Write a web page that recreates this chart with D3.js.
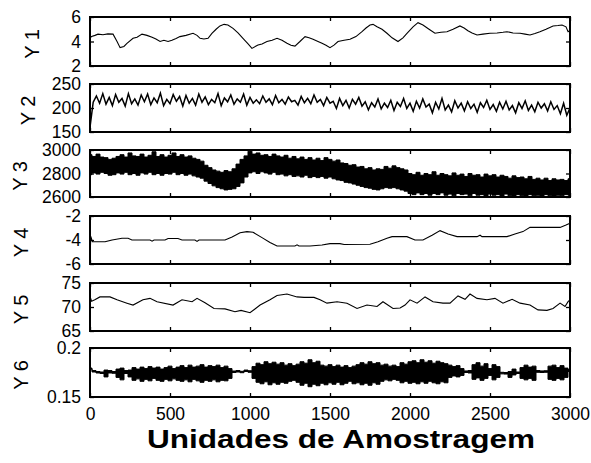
<!DOCTYPE html>
<html>
<head>
<meta charset="utf-8">
<script src="https://cdn.jsdelivr.net/npm/d3@7"></script>
<style>
  body { margin: 0; background: #fff; }
  svg { display: block; font-family: "Liberation Sans", Arial, sans-serif; }
</style>
</head>
<body>
<div id="chart"></div>
<script>
// x axis of every panel
const xTicks = [0, 500, 1000, 1500, 2000, 2500, 3000];

// Y1 : sample position / value pairs
const y1T = [0, 10, 31, 50, 81, 112, 144, 169, 188, 212, 231, 269, 294, 325, 356, 388, 412, 438, 462, 488,
  512, 538, 562, 600, 644, 669, 688, 712, 738, 762, 788, 812, 838, 862, 894, 925, 956, 988, 1012, 1050,
  1075, 1106, 1138, 1169, 1200, 1231, 1256, 1281, 1312, 1344, 1369, 1394, 1425, 1450, 1475, 1500, 1525, 1550, 1588, 1625,
  1662, 1700, 1725, 1750, 1769, 1794, 1825, 1856, 1888, 1925, 1956, 1981, 2019, 2050, 2081, 2119, 2156, 2194, 2231, 2269,
  2312, 2338, 2362, 2388, 2419, 2456, 2500, 2544, 2581, 2606, 2644, 2688, 2719, 2750, 2781, 2812, 2850, 2894, 2925, 2950,
  2975, 2988, 3000];
const y1V = [4.3, 4.4, 4.5, 4.6, 4.55, 4.62, 4.6, 4.0, 3.5, 3.6, 3.85, 4.26, 4.35, 4.6, 4.5, 4.34, 4.2, 4.0, 4.1, 4.0,
  4.1, 4.25, 4.4, 4.5, 4.67, 4.5, 4.26, 4.2, 4.26, 4.67, 5.0, 5.27, 5.4, 5.35, 5.07, 4.7, 4.26, 3.8, 3.44, 3.71,
  3.8, 4.0, 4.1, 4.26, 4.1, 3.85, 3.7, 3.63, 4.0, 4.4, 4.3, 4.18, 4.0, 3.85, 3.7, 3.5, 3.7, 4.0, 4.1, 4.18,
  4.4, 4.8, 5.1, 5.35, 5.4, 5.2, 5.0, 4.67, 4.3, 4.0, 4.3, 4.67, 5.2, 5.54, 5.35, 5.0, 4.67, 4.75, 4.8, 5.0,
  5.27, 5.1, 4.88, 4.7, 4.53, 4.6, 4.67, 4.7, 4.75, 4.8, 4.7, 4.67, 4.6, 4.53, 4.65, 4.8, 5.0, 5.27, 5.3, 5.35,
  5.2, 4.8, 4.9];

// Y2 : one reading every 20 samples
const y2Step = 20;
const y2V = [160, 212, 225, 210, 230, 208, 222, 205, 228, 212, 220, 204, 230, 209, 219, 206, 227, 213, 229, 207,
  221, 211, 231, 205, 218, 209, 228, 214, 224, 204, 226, 210, 220, 206, 229, 212, 223, 207, 218, 211,
  230, 205, 221, 213, 227, 208, 219, 212, 229, 206, 222, 210, 217, 209, 225, 212, 219, 207, 226, 211,
  218, 208, 223, 213, 216, 206, 224, 211, 220, 209, 227, 212, 218, 205, 222, 210, 214, 199, 220, 205,
  216, 200, 218, 208, 222, 204, 213, 196, 211, 202, 219, 198, 210, 201, 216, 195, 212, 203, 220, 199,
  210, 193, 214, 200, 219, 202, 208, 190, 212, 198, 220, 196, 206, 192, 215, 200, 210, 194, 213, 199,
  208, 191, 211, 201, 216, 197, 207, 193, 212, 198, 214, 196, 205, 190, 211, 199, 215, 195, 206, 192,
  212, 200, 209, 194, 213, 197, 205, 188, 210, 185, 200];

// Y3 : upper and lower edge of the noisy band, every 25 samples
const y3Step = 25;
const y3Upper = [2960, 2945, 2965, 2940, 2935, 2920, 2930, 2945, 2960, 2940, 2975, 2950, 2945, 2965, 2940, 2955, 2985, 2945, 2960, 2940,
  2955, 2975, 2945, 2960, 2940, 2950, 2930, 2920, 2905, 2870, 2850, 2830, 2820, 2810, 2825, 2815, 2840, 2880, 2920, 2950,
  2990, 2965, 2975, 2955, 2960, 2945, 2965, 2950, 2940, 2955, 2930, 2945, 2925, 2940, 2920, 2935, 2915, 2930, 2910, 2935,
  2920, 2905, 2915, 2890, 2885, 2870, 2875, 2855, 2860, 2840, 2850, 2830, 2840, 2835, 2860, 2845, 2865, 2850, 2840, 2830,
  2800, 2790, 2810, 2785, 2800, 2790, 2815, 2785, 2800, 2790, 2780, 2805, 2785, 2795, 2775, 2800, 2785, 2790, 2770, 2795,
  2780, 2790, 2770, 2785, 2775, 2760, 2780, 2765, 2770, 2755, 2775, 2750, 2760, 2745, 2760, 2740, 2755, 2745, 2750, 2740,
  2755];
const y3Lower = [2790, 2805, 2795, 2810, 2800, 2785, 2790, 2805, 2795, 2810, 2790, 2800, 2785, 2805, 2795, 2810, 2790, 2800, 2785, 2800,
  2795, 2810, 2790, 2800, 2785, 2795, 2780, 2770, 2760, 2735, 2715, 2695, 2680, 2670, 2660, 2665, 2670, 2690, 2720, 2770,
  2805, 2815, 2800, 2815, 2805, 2795, 2810, 2790, 2795, 2780, 2790, 2775, 2780, 2770, 2785, 2765, 2775, 2765, 2775, 2760,
  2770, 2755, 2745, 2740, 2725, 2720, 2710, 2700, 2690, 2680, 2675, 2665, 2660, 2670, 2680, 2675, 2680, 2670, 2660, 2650,
  2630, 2620, 2635, 2620, 2630, 2615, 2630, 2620, 2635, 2615, 2625, 2610, 2630, 2620, 2625, 2610, 2630, 2615, 2620, 2605,
  2625, 2615, 2620, 2605, 2625, 2610, 2605, 2620, 2610, 2605, 2620, 2610, 2615, 2605, 2620, 2610, 2605, 2615, 2610, 2620,
  2615];

// Y4
const y4T = [0, 5, 15, 94, 138, 200, 238, 262, 375, 388, 400, 469, 488, 550, 575, 656, 669, 681, 844, 888,
  938, 981, 1019, 1075, 1125, 1169, 1281, 1294, 1306, 1375, 1450, 1500, 1562, 1588, 1750, 1800, 1856, 1888, 1981, 2031,
  2081, 2138, 2188, 2238, 2294, 2419, 2438, 2450, 2606, 2656, 2706, 2750, 2938, 2975, 3000];
const y4V = [-5.5, -3.7, -4.14, -4.14, -4.0, -3.86, -3.86, -4.0, -4.0, -4.1, -4.0, -4.0, -3.88, -3.88, -4.0, -4.0, -4.12, -4.0, -4.0, -3.75,
  -3.4, -3.3, -3.35, -3.8, -4.2, -4.5, -4.5, -4.4, -4.5, -4.5, -4.42, -4.3, -4.3, -4.38, -4.36, -4.15, -3.86, -3.72, -3.72, -4.0,
  -4.0, -3.6, -3.22, -3.5, -3.72, -3.72, -3.6, -3.72, -3.72, -3.5, -3.3, -2.95, -2.95, -2.75, -2.6];

// Y5
const y5T = [0, 3, 10, 30, 62, 125, 169, 231, 269, 331, 375, 419, 519, 575, 638, 669, 719, 775, 844, 906,
  944, 1000, 1063, 1125, 1169, 1231, 1294, 1338, 1400, 1438, 1481, 1544, 1606, 1669, 1731, 1794, 1831, 1894, 1938, 1969,
  2000, 2044, 2094, 2144, 2206, 2250, 2300, 2344, 2375, 2419, 2481, 2531, 2581, 2638, 2688, 2750, 2800, 2856, 2894, 2938,
  2969, 2988, 3000];
const y5V = [70.1, 71.9, 71.2, 71.5, 72.1, 72.1, 71.5, 70.8, 70.4, 71.5, 71.8, 71.1, 70.4, 71.5, 71.1, 71.8, 70.9, 69.7, 69.6, 69.0,
  69.3, 68.8, 70.4, 71.5, 72.4, 72.7, 72.1, 72.0, 72.0, 71.5, 70.8, 71.1, 70.8, 69.7, 70.4, 70.1, 71.1, 69.7, 69.8, 70.4,
  71.5, 70.8, 72.1, 71.1, 70.8, 70.8, 72.3, 71.6, 72.7, 71.8, 71.5, 71.8, 70.8, 71.6, 70.8, 70.4, 69.4, 69.3, 69.7, 70.8,
  70.1, 71.1, 71.5];

// Y6 : upper and lower edge of the noisy band, every 25 samples
const y6Step = 25;
const y6Upper = [0.1795, 0.1770, 0.1760, 0.1755, 0.1775, 0.1770, 0.1760, 0.1785, 0.1795, 0.1770, 0.1775, 0.1800, 0.1785, 0.1805, 0.1790, 0.1810, 0.1795, 0.1805, 0.1785, 0.1800,
  0.1815, 0.1790, 0.1805, 0.1820, 0.1800, 0.1825, 0.1805, 0.1815, 0.1830, 0.1805, 0.1820, 0.1810, 0.1825, 0.1800, 0.1815, 0.1790, 0.1765, 0.1770, 0.1762, 0.1775,
  0.1768, 0.1810, 0.1845, 0.1830, 0.1860, 0.1840, 0.1855, 0.1835, 0.1850, 0.1825, 0.1840, 0.1820, 0.1835, 0.1860, 0.1845, 0.1880, 0.1850, 0.1865, 0.1825, 0.1815,
  0.1830, 0.1810, 0.1825, 0.1805, 0.1820, 0.1800, 0.1815, 0.1830, 0.1850, 0.1835, 0.1860, 0.1840, 0.1850, 0.1825, 0.1835, 0.1815, 0.1825, 0.1810, 0.1850, 0.1835,
  0.1860, 0.1870, 0.1850, 0.1880, 0.1855, 0.1870, 0.1845, 0.1865, 0.1850, 0.1840, 0.1825, 0.1810, 0.1820, 0.1790, 0.1766, 0.1770, 0.1830, 0.1850, 0.1815, 0.1840,
  0.1790, 0.1830, 0.1810, 0.1752, 0.1750, 0.1760, 0.1785, 0.1755, 0.1800, 0.1825, 0.1805, 0.1815, 0.1770, 0.1766, 0.1768, 0.1815, 0.1825, 0.1800, 0.1820, 0.1795,
  0.1780];
const y6Lower = [0.1785, 0.1755, 0.1745, 0.1740, 0.1705, 0.1745, 0.1742, 0.1700, 0.1675, 0.1740, 0.1705, 0.1670, 0.1685, 0.1660, 0.1680, 0.1665, 0.1690, 0.1670, 0.1660, 0.1680,
  0.1665, 0.1685, 0.1670, 0.1660, 0.1675, 0.1655, 0.1680, 0.1665, 0.1650, 0.1670, 0.1660, 0.1675, 0.1655, 0.1670, 0.1665, 0.1690, 0.1750, 0.1755, 0.1748, 0.1760,
  0.1752, 0.1690, 0.1650, 0.1635, 0.1655, 0.1625, 0.1645, 0.1630, 0.1650, 0.1640, 0.1660, 0.1670, 0.1650, 0.1620, 0.1640, 0.1605, 0.1630, 0.1615, 0.1640, 0.1625,
  0.1645, 0.1630, 0.1650, 0.1625, 0.1640, 0.1660, 0.1635, 0.1645, 0.1625, 0.1640, 0.1620, 0.1645, 0.1630, 0.1660, 0.1675, 0.1665, 0.1680, 0.1670, 0.1645, 0.1660,
  0.1640, 0.1650, 0.1635, 0.1655, 0.1640, 0.1660, 0.1645, 0.1635, 0.1655, 0.1645, 0.1700, 0.1715, 0.1705, 0.1720, 0.1750, 0.1745, 0.1680, 0.1695, 0.1670, 0.1690,
  0.1720, 0.1675, 0.1700, 0.1736, 0.1734, 0.1700, 0.1725, 0.1740, 0.1690, 0.1675, 0.1690, 0.1670, 0.1752, 0.1750, 0.1752, 0.1680, 0.1670, 0.1690, 0.1675, 0.1700,
  0.1760];

const width = 591, height = 463;
const svg = d3.select("#chart").append("svg")
  .attr("width", width)
  .attr("height", height);

const x = d3.scaleLinear().domain([0, 3000]).range([90, 570]);

const pairs = (ts, vs) => ts.map((t, i) => [t, vs[i]]);
const stepped = (step, vs) => vs.map((v, i) => [i * step, v]);
const band = (step, up, lo) => up.map((v, i) => [i * step, v, lo[i]]);

// one entry per subplot (labelX = centre of the rotated y label)
const panels = [
  { label: "Y 1", labelX: 32, domain: [2, 6], ticks: [2, 4, 6], top: 17, bottom: 66, kind: "line", data: pairs(y1T, y1V) },
  { label: "Y 2", labelX: 28, domain: [150, 250], ticks: [150, 200, 250], top: 84, bottom: 132, kind: "line", data: stepped(y2Step, y2V) },
  { label: "Y 3", labelX: 20, domain: [2600, 3000], ticks: [2600, 2800, 3000], top: 150, bottom: 197, kind: "band", data: band(y3Step, y3Upper, y3Lower) },
  { label: "Y 4", labelX: 21, domain: [-6, -2], ticks: [-6, -4, -2], top: 216, bottom: 264, kind: "line", data: pairs(y4T, y4V) },
  { label: "Y 5", labelX: 21, domain: [65, 75], ticks: [65, 70, 75], top: 283, bottom: 331, kind: "line", data: pairs(y5T, y5V) },
  { label: "Y 6", labelX: 21, domain: [0.15, 0.2], ticks: [0.15, 0.2], top: 348, bottom: 397, kind: "band", data: band(y6Step, y6Upper, y6Lower) }
];

panels.forEach((p, idx) => {
  const y = d3.scaleLinear().domain(p.domain).range([p.bottom, p.top]);
  const g = svg.append("g");
  const last = idx === panels.length - 1;

  // data
  if (p.kind === "line") {
    g.append("path")
      .datum(p.data)
      .attr("fill", "none")
      .attr("stroke", "#000")
      .attr("stroke-width", idx === 1 ? 1.5 : 1.1)
      .attr("d", d3.line().x(d => x(d[0])).y(d => y(d[1])));
  } else {
    g.append("path")
      .datum(p.data)
      .attr("fill", "#000")
      .attr("stroke", "#000")
      .attr("stroke-width", 1)
      .attr("d", d3.area().curve(d3.curveStep).x(d => x(d[0])).y0(d => y(d[2])).y1(d => y(d[1])));
  }

  // axes with inward ticks
  const axisL = g.append("g").attr("transform", `translate(90,0)`)
    .call(d3.axisLeft(y).tickValues(p.ticks).tickSize(-4).tickPadding(9).tickFormat(d => String(d)));
  const axisR = g.append("g").attr("transform", `translate(570,0)`)
    .call(d3.axisRight(y).tickValues(p.ticks).tickSize(-4).tickFormat(""));
  const axisT = g.append("g").attr("transform", `translate(0,${p.top})`)
    .call(d3.axisTop(x).tickValues(xTicks).tickSize(-4).tickFormat(""));
  const axisB = g.append("g").attr("transform", `translate(0,${p.bottom})`)
    .call(d3.axisBottom(x).tickValues(xTicks).tickSize(-4).tickPadding(11)
      .tickFormat(last ? (d => String(d)) : ""));

  [axisL, axisR, axisT, axisB].forEach(a => {
    a.select(".domain").remove();
    a.selectAll(".tick line").attr("stroke", "#000").attr("stroke-width", 1.3);
    a.selectAll("text").attr("font-size", 17.5).attr("fill", "#000")
      .attr("font-family", "'Liberation Sans', Arial, sans-serif");
  });

  // frame
  g.append("rect")
    .attr("x", 90).attr("y", p.top)
    .attr("width", 480).attr("height", p.bottom - p.top)
    .attr("fill", "none")
    .attr("stroke", "#000")
    .attr("stroke-width", 2);

  // panel label
  const cy = (p.top + p.bottom) / 2 + 2.5;
  svg.append("text")
    .attr("transform", `translate(${p.labelX + 7},${cy}) rotate(-90)`)
    .attr("text-anchor", "middle")
    .attr("font-size", 20)
    .attr("fill", "#000")
    .text(p.label);
});

svg.append("text")
  .attr("x", 341)
  .attr("y", 448)
  .attr("text-anchor", "middle")
  .attr("font-size", 25)
  .attr("font-weight", "bold")
  .attr("textLength", 388)
  .attr("lengthAdjust", "spacingAndGlyphs")
  .attr("fill", "#000")
  .text("Unidades de Amostragem");
</script>
</body>
</html>
